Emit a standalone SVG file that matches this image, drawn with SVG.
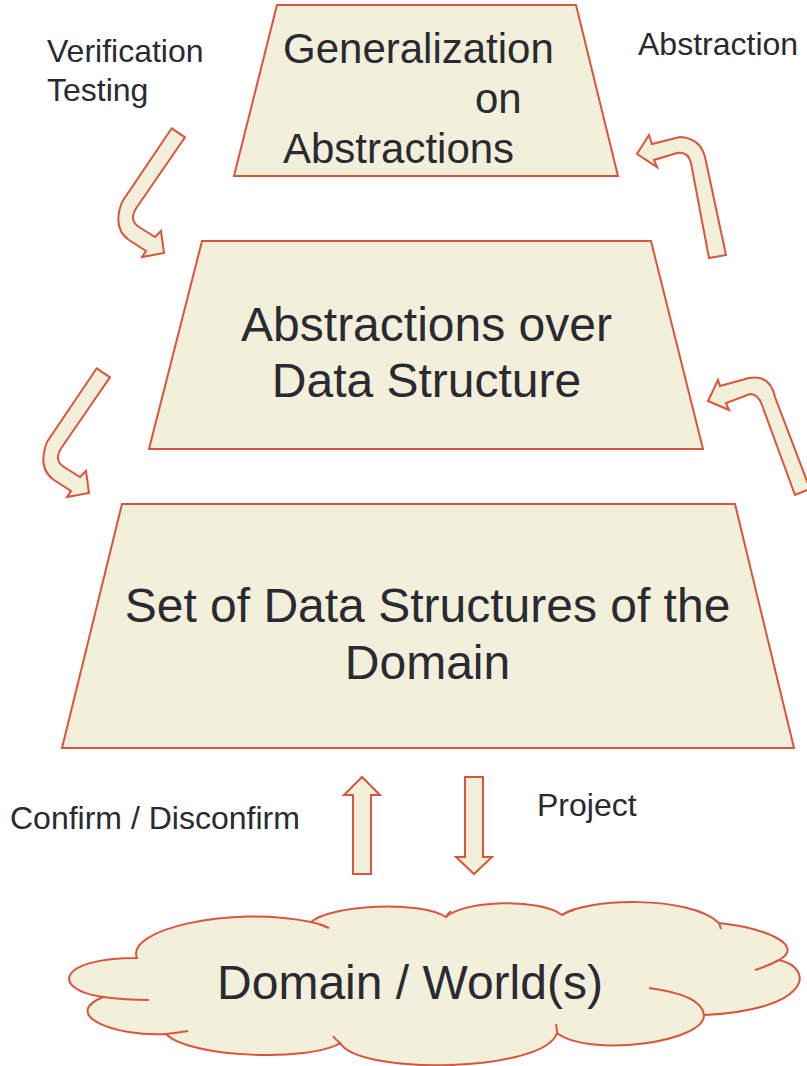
<svg xmlns="http://www.w3.org/2000/svg" width="807" height="1066" viewBox="0 0 807 1066">
<style>
.shape{fill:#f2f0db;stroke:#d9553b;stroke-width:2;stroke-linejoin:miter}
.inner{fill:none;stroke:#d9553b;stroke-width:2}
text{font-family:"Liberation Sans",Arial,sans-serif;fill:#2a2a33}
.big{font-size:48px}
.top{font-size:42px}
.lbl{font-size:32px}
</style>
<defs>
<path id="curveLeft" d="M171.7,128.3 L185,137.3 L137,207 Q128,220 139,227 L155,237 L161,231 L164,253 L142,257 L146,251 L129,240 Q112,228 122,202 Z"/>
</defs>
<rect width="807" height="1066" fill="#ffffff"/>
<g id="connectors">
<use href="#curveLeft" class="shape"/>
<use href="#curveLeft" class="shape" transform="translate(-75,240)"/>
<path class="shape" d="M726,255 L705,157 Q700,138 680,137 L652,144 L649,135 L637,154 L657,167 L654,160 L677,153 Q688,151 691,163 L709,258 Z"/>
<path class="shape" d="M795,495 L762,405 Q758,394 750,394 L726,403 L729,410 L708,401 L718,380 L720,386 L749,378 Q770,374 775,397 L810,489 Z"/>
<path class="shape" d="M353,874 L353,795 L344,795 L362,777 L380,795 L371,795 L371,874 Z"/>
<path class="shape" d="M465,777 L483,777 L483,857 L492,857 L474,874 L456,857 L465,857 Z"/>
</g>
<g id="node-generalization">
<polygon class="shape" points="277,5 576,5 618,176 234,176"/>
<text class="top" x="283" y="63">Generalization</text>
<text class="top" x="475" y="113">on</text>
<text class="top" x="283" y="163">Abstractions</text>
</g>
<g id="node-abstractions">
<polygon class="shape" points="202,241 651,241 703,449 149,449"/>
<text class="big" x="426.5" y="341" text-anchor="middle">Abstractions over</text>
<text class="big" x="426.5" y="397" text-anchor="middle">Data Structure</text>
</g>
<g id="node-set">
<polygon class="shape" points="122,504 735,504 794,748 62,748"/>
<text class="big" x="427.5" y="622" text-anchor="middle">Set of Data Structures of the</text>
<text class="big" x="427.5" y="679" text-anchor="middle">Domain</text>
</g>
<g id="node-domain">
<path class="shape" d="M137,958 C125,930 230,905 311,922 C330,905 420,900 446,917 C465,900 540,898 562,915 C585,898 690,895 719,923 C765,928 806,945 779,960 C815,968 812,1010 704,1015 C705,1042 590,1058 557,1033 C545,1072 360,1076 340,1043 C310,1062 190,1058 166,1034 C115,1037 60,1015 103,997 C52,990 55,958 137,958 Z"/>
<path class="inner" d="M103,997 Q125,1000 149,1000"/>
<path class="inner" d="M166,1034 Q176,1033 188,1031"/>
<path class="inner" d="M311,922 Q321,924 329,928"/>
<path class="inner" d="M446,917 Q448,913 451,911"/>
<path class="inner" d="M562,915 Q566,912 574,910"/>
<path class="inner" d="M719,923 Q720,926 721,929"/>
<path class="inner" d="M779,960 Q768,966 755,970"/>
<path class="inner" d="M704,1015 Q702,995 649,988"/>
<path class="inner" d="M557,1033 Q557,1028 556,1024"/>
<path class="inner" d="M340,1043 Q336,1040 333,1036"/>
<text class="big" x="410" y="999" text-anchor="middle">Domain / World(s)</text>
</g>
<g id="labels">
<text class="lbl" x="47" y="62">Verification</text>
<text class="lbl" x="47" y="101">Testing</text>
<text class="lbl" x="638" y="55">Abstraction</text>
<text class="lbl" x="537" y="816">Project</text>
<text class="lbl" x="10" y="829">Confirm / Disconfirm</text>
</g>
</svg>
